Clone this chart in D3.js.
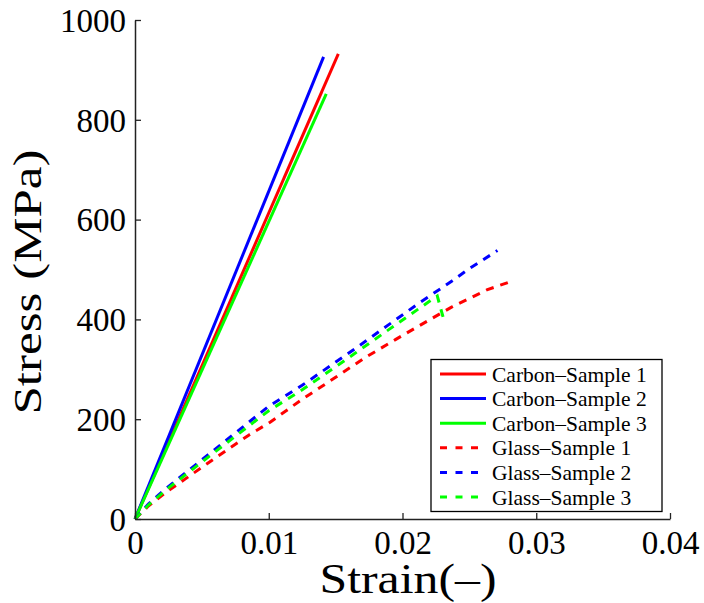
<!DOCTYPE html>
<html>
<head>
<meta charset="utf-8">
<script src="https://cdn.jsdelivr.net/npm/d3@7"></script>
<style>
  body { margin: 0; background: #fff; }
  text { font-family: "Liberation Serif", "Times New Roman", serif; fill: #000; }
</style>
</head>
<body>
<div class="container"></div>
<script>
  var width = 704,
    height = 603;

  // tick values
  var xTicks = [0, 0.01, 0.02, 0.03, 0.04];
  var yTicks = [0, 200, 400, 600, 800, 1000];

  // series: [strain, stress]
  var carbon1 = [[0, 0], [0.0152, 932]];
  var carbon2 = [[0, 0], [0.0141, 926]];
  var carbon3 = [[0, 0], [0.0143, 852]];
  var glass1 = [[0, 0], [0.001, 26], [0.0024, 55], [0.0061, 124], [0.0085, 168], [0.0101, 194],
    [0.0125, 240], [0.015, 284], [0.0173, 325], [0.0195, 360], [0.0213, 388], [0.0237, 425],
    [0.0263, 459], [0.0281, 476]];
  var glass2 = [[0, 0], [0.001, 30], [0.0024, 63], [0.006, 140], [0.01, 226], [0.0125, 268],
    [0.0165, 342], [0.019, 390], [0.0212, 432], [0.0237, 477], [0.0249, 500], [0.0271, 538]];
  var glass3 = [[0, 0], [0.001, 28], [0.0024, 60], [0.006, 135], [0.01, 217], [0.0125, 259],
    [0.0165, 333], [0.019, 380], [0.0213, 423], [0.0226, 447], [0.0231, 398]];

  var seriesNames = ["Carbon\u2013Sample 1", "Carbon\u2013Sample 2", "Carbon\u2013Sample 3",
    "Glass\u2013Sample 1", "Glass\u2013Sample 2", "Glass\u2013Sample 3"];
  var seriesData = [carbon1, carbon2, carbon3, glass1, glass2, glass3];
  var colors = ["#ff0000", "#0000ff", "#00ff00", "#ff0000", "#0000ff", "#00ff00"];
  var dashed = [false, false, false, true, true, true];

  var plotLeft = 135, plotRight = 670, plotTop = 20, plotBottom = 519;

  var x = d3.scaleLinear().domain([0, 0.04]).range([plotLeft, plotRight]);
  var y = d3.scaleLinear().domain([0, 1000]).range([plotBottom, plotTop]);

  var svg = d3.select(".container").append("svg")
    .attr("width", width)
    .attr("height", height);

  // lines
  var line = d3.line()
    .x(function(d) { return x(d[0]); })
    .y(function(d) { return y(d[1]); });

  svg.selectAll(".series")
    .data(seriesData)
    .enter().append("path")
    .attr("class", "series")
    .attr("d", line)
    .attr("fill", "none")
    .attr("stroke", function(d, i) { return colors[i]; })
    .attr("stroke-width", 3)
    .attr("stroke-dasharray", function(d, i) { return dashed[i] ? "8,7" : null; });

  // axes
  var xAxis = d3.axisBottom(x)
    .tickValues(xTicks)
    .tickFormat(function(d) { return d === 0 ? "0" : d3.format(".2f")(d); })
    .tickSizeInner(-6)
    .tickSizeOuter(0)
    .tickPadding(12);

  var yAxis = d3.axisLeft(y)
    .tickValues(yTicks)
    .tickFormat(d3.format("d"))
    .tickSizeInner(-6)
    .tickSizeOuter(0)
    .tickPadding(9);

  var gx = svg.append("g")
    .attr("transform", "translate(0," + plotBottom + ")")
    .call(xAxis);
  var gy = svg.append("g")
    .attr("transform", "translate(" + plotLeft + ",0)")
    .call(yAxis);

  [gx, gy].forEach(function(g) {
    g.select(".domain").attr("stroke", "#222").attr("stroke-width", 1.5);
    g.selectAll(".tick line").attr("stroke", "#222").attr("stroke-width", 1.3);
    g.selectAll(".tick text")
      .attr("font-family", "Liberation Serif, serif")
      .attr("font-size", 33)
      .attr("fill", "#000");
  });
  gx.selectAll(".tick text").attr("dy", "0.71em");
  gy.selectAll(".tick text").attr("dy", "0.34em");

  // axis titles
  svg.append("text")
    .attr("x", 408)
    .attr("y", 593)
    .attr("text-anchor", "middle")
    .attr("font-size", 42)
    .attr("textLength", 177)
    .attr("lengthAdjust", "spacingAndGlyphs")
    .text("Strain(\u2013)");

  svg.append("text")
    .attr("transform", "translate(41,282) rotate(-90)")
    .attr("text-anchor", "middle")
    .attr("font-size", 41)
    .attr("textLength", 265)
    .attr("lengthAdjust", "spacingAndGlyphs")
    .text("Stress (MPa)");

  // legend
  var legend = svg.append("g");
  legend.append("rect")
    .attr("x", 431)
    .attr("y", 359.5)
    .attr("width", 231)
    .attr("height", 152)
    .attr("fill", "#fff")
    .attr("stroke", "#000")
    .attr("stroke-width", 1.3);

  var item = legend.selectAll(".item")
    .data(seriesNames)
    .enter().append("g")
    .attr("class", "item")
    .attr("transform", function(d, i) { return "translate(0," + (374 + i * 24.6) + ")"; });

  item.append("line")
    .attr("x1", 440)
    .attr("x2", 486)
    .attr("stroke", function(d, i) { return colors[i]; })
    .attr("stroke-width", 3)
    .attr("stroke-dasharray", function(d, i) { return dashed[i] ? "7,8.5" : null; });

  item.append("text")
    .attr("x", 492)
    .attr("dy", "0.35em")
    .attr("font-size", 21.5)
    .text(function(d) { return d; });
</script>
</body>
</html>
